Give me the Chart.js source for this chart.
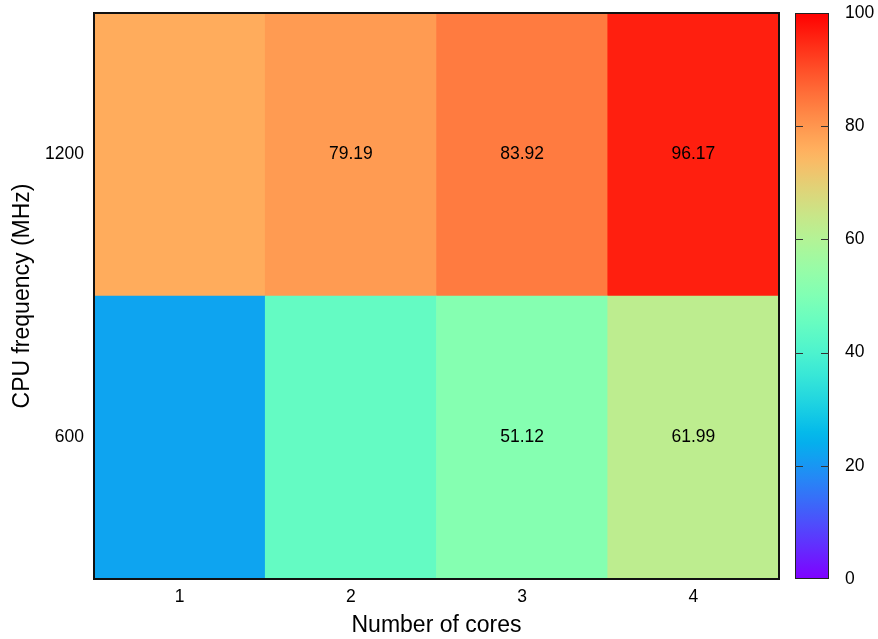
<!DOCTYPE html>
<html>
<head>
<meta charset="utf-8">
<script src="https://cdn.jsdelivr.net/npm/chart.js@4.4.1/dist/chart.umd.min.js"></script>
<style>
  html, body { margin: 0; padding: 0; background: #ffffff; }
  #wrap { width: 878px; height: 639px; }
</style>
</head>
<body>
<div id="wrap"><canvas id="heat" width="878" height="639"></canvas></div>
<script>
// Cores on the x axis, CPU frequency rows on the y axis
const cores = ['1', '2', '3', '4'];
const freqs = [600, 1200];
// Utilisation (%) for each core count, one array per frequency
const util600 = [22.2, 44.6, 51.12, 61.99];
const util1200 = [76.5, 79.19, 83.92, 96.17];
// Text printed inside cells (blank where nothing is printed)
const text600 = ['', '', '51.12', '61.99'];
const text1200 = ['', '79.19', '83.92', '96.17'];
// Colour bar range and ticks
const cbMin = 0, cbMax = 100, cbStep = 20;
// Half the spacing between frequency rows: each cell spans freq ± halfRow
const halfRow = 300;

// gnuplot "rgbformulae 33,13,10" rainbow palette
function rainbow(v) {
  const x = Math.min(1, Math.max(0, (v - cbMin) / (cbMax - cbMin)));
  const clamp = t => Math.round(255 * Math.min(1, Math.max(0, t)));
  const r = clamp(Math.abs(2 * x - 0.5));
  const g = clamp(Math.sin(Math.PI * x));
  const b = clamp(Math.cos(Math.PI * x / 2));
  return `rgb(${r},${g},${b})`;
}

const rows = [
  { freq: freqs[0], values: util600, text: text600 },
  { freq: freqs[1], values: util1200, text: text1200 }
];

const datasets = rows.map(row => ({
  label: row.freq + ' MHz',
  data: row.values.map(() => [row.freq - halfRow, row.freq + halfRow]),
  util: row.values,
  cellText: row.text,
  backgroundColor: row.values.map(rainbow),
  borderWidth: 0,
  grouped: false,
  barPercentage: 1,
  categoryPercentage: 1,
  yAxisID: 'y'
}));

const FONT = '"Liberation Sans", Arial, Helvetica, sans-serif';
const TICK_SIZE = 17.5;
const TITLE_SIZE = 23;
const CLEAR = 'rgba(0,0,0,0)';

const heatDecor = {
  id: 'heatDecor',
  afterDatasetsDraw(chart) {
    const ctx = chart.ctx;
    const area = chart.chartArea;
    // cell value labels
    ctx.save();
    ctx.font = TICK_SIZE + 'px ' + FONT;
    ctx.fillStyle = '#000';
    ctx.textAlign = 'center';
    ctx.textBaseline = 'middle';
    chart.data.datasets.forEach((ds, di) => {
      const meta = chart.getDatasetMeta(di);
      meta.data.forEach((bar, i) => {
        const t = ds.cellText[i];
        if (!t) return;
        const p = bar.getProps(['x', 'y', 'base'], true);
        ctx.fillText(t, p.x, (p.y + p.base) / 2);
      });
    });
    // plot frame
    ctx.strokeStyle = '#111';
    ctx.lineWidth = 2;
    ctx.strokeRect(area.left, area.top, area.right - area.left, area.bottom - area.top);

    // colour bar, drawn along the cb scale
    const cb = chart.scales.cb;
    const x0 = area.right + 16, x1 = area.right + 50;
    const yTop = cb.getPixelForValue(cbMax), yBot = cb.getPixelForValue(cbMin);
    const grad = ctx.createLinearGradient(0, yBot, 0, yTop);
    const steps = 50;
    for (let k = 0; k <= steps; k++) {
      grad.addColorStop(k / steps, rainbow(cbMin + (cbMax - cbMin) * k / steps));
    }
    ctx.fillStyle = grad;
    ctx.fillRect(x0, yTop, x1 - x0, yBot - yTop);
    ctx.strokeStyle = '#222';
    ctx.lineWidth = 1;
    ctx.strokeRect(x0 + 0.5, yTop + 0.5, x1 - x0 - 1, yBot - yTop - 1);
    ctx.strokeStyle = '#333';
    cb.ticks.forEach(t => {
      if (t.value <= cbMin || t.value >= cbMax) return;
      const y = Math.round(cb.getPixelForValue(t.value)) + 0.5;
      ctx.beginPath();
      ctx.moveTo(x0, y); ctx.lineTo(x0 + 8, y);
      ctx.moveTo(x1 - 8, y); ctx.lineTo(x1, y);
      ctx.stroke();
    });
    ctx.restore();
  }
};

new Chart(document.getElementById('heat'), {
  type: 'bar',
  data: { labels: cores, datasets },
  plugins: [heatDecor],
  options: {
    responsive: false,
    animation: false,
    devicePixelRatio: 1,
    layout: { padding: { top: 13, left: 0, right: 0, bottom: 0 } },
    plugins: { legend: { display: false }, tooltip: { enabled: false } },
    scales: {
      x: {
        type: 'category',
        offset: true,
        grid: { display: false, drawTicks: false, tickLength: 0 },
        border: { display: false },
        ticks: { color: '#000', font: { family: FONT, size: TICK_SIZE }, padding: 8 },
        title: { display: true, text: 'Number of cores', color: '#000',
                 font: { family: FONT, size: TITLE_SIZE }, padding: { top: 0, bottom: 0 } },
        afterFit(s) { s.height = 60; }
      },
      y: {
        type: 'linear',
        min: freqs[0] - halfRow,
        max: freqs[freqs.length - 1] + halfRow,
        afterBuildTicks(s) { s.ticks = freqs.map(v => ({ value: v })); },
        grid: { display: true, drawOnChartArea: false, color: CLEAR, drawTicks: true, tickLength: 10 },
        border: { display: false },
        ticks: { color: '#000', font: { family: FONT, size: TICK_SIZE }, padding: 0,
                 callback: v => String(v) },
        title: { display: true, text: 'CPU frequency (MHz)', color: '#000',
                 font: { family: FONT, size: TITLE_SIZE }, padding: { top: 9, bottom: 0 } },
        afterFit(s) { s.width = 94; }
      },
      cb: {
        type: 'linear',
        position: 'right',
        min: cbMin,
        max: cbMax,
        ticks: { stepSize: cbStep, color: '#000', font: { family: FONT, size: TICK_SIZE }, padding: 0 },
        grid: { display: true, drawOnChartArea: false, color: CLEAR, drawTicks: true, tickLength: 66 },
        border: { display: false },
        afterFit(s) { s.width = 99; }
      }
    }
  }
});
</script>
</body>
</html>
